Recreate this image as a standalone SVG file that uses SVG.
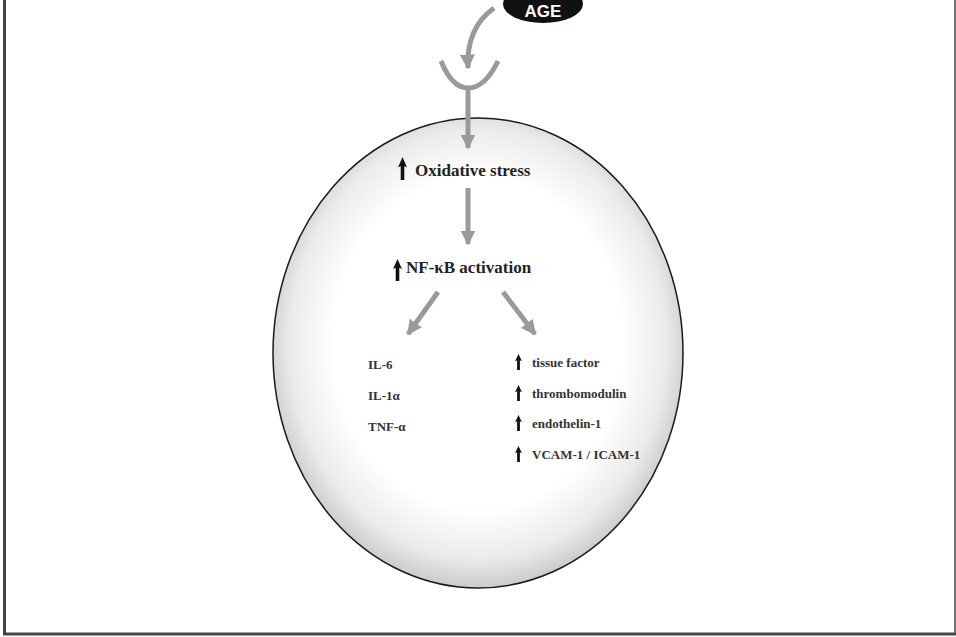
<svg xmlns="http://www.w3.org/2000/svg" width="956" height="637" viewBox="0 0 956 637">
<style>
.conn{fill:none;stroke:#9a9a9a;stroke-width:5;stroke-linecap:butt}
.main{font-family:"Liberation Serif","Times New Roman",serif;font-weight:bold;font-size:17px;fill:#222}
.item{font-family:"Liberation Serif","Times New Roman",serif;font-weight:bold;font-size:13px;fill:#333}
.age{font-family:"Liberation Sans",Arial,sans-serif;font-weight:bold;font-size:17px;fill:#fff}
.frame{stroke:#444;fill:none}
</style>
<defs>
<radialGradient id="cellGrad" cx="50%" cy="48%" r="52%">
<stop offset="0" stop-color="#ffffff"/>
<stop offset="0.68" stop-color="#ffffff"/>
<stop offset="0.88" stop-color="#ebebeb"/>
<stop offset="1" stop-color="#cbcbcb"/>
</radialGradient>
<marker id="ah" viewBox="0 0 10 10" refX="9" refY="5" markerWidth="3" markerHeight="3" orient="auto" markerUnits="strokeWidth">
<path d="M0 0 L10 5 L0 10 Z" fill="#9a9a9a"/>
</marker>
<symbol id="up" viewBox="0 0 10 24" preserveAspectRatio="none">
<path d="M5 0 L10 11 L7 9.5 L7 24 L3 24 L3 9.5 L0 11 Z" fill="#111"/>
</symbol>
</defs>
<rect width="956" height="637" fill="#fff"/>
<g id="frame">
<line class="frame" x1="4.5" y1="0" x2="4.5" y2="635" stroke-width="3"/>
<line class="frame" x1="3" y1="634" x2="956" y2="634" stroke-width="3"/>
<line class="frame" x1="955" y1="0" x2="955" y2="634" stroke-width="1.5"/>
</g>
<g id="cell">
<ellipse cx="478" cy="353" rx="205" ry="235" fill="url(#cellGrad)" stroke="#1a1a1a" stroke-width="1.5"/>
</g>
<g id="age">
<ellipse cx="543" cy="4" rx="40" ry="19" fill="#111"/>
<text class="age" x="543" y="17" text-anchor="middle">AGE</text>
</g>
<g id="receptor">
<path class="conn" d="M441 61 Q452 88 468 88 Q485 88 498 61"/>
</g>
<g id="connectors">
<path class="conn" d="M494 8 Q466 28 468 68" marker-end="url(#ah)"/>
<path class="conn" d="M468 88 L468 148" marker-end="url(#ah)"/>
<path class="conn" d="M468 188 L468 244" marker-end="url(#ah)"/>
<path class="conn" d="M438 292 L408 334" marker-end="url(#ah)"/>
<path class="conn" d="M503 292 L535 334" marker-end="url(#ah)"/>
</g>
<g id="oxidative">
<use href="#up" x="398" y="157" width="9" height="23"/>
<text class="main" x="415" y="176">Oxidative stress</text>
</g>
<g id="nfkb">
<use href="#up" x="393" y="259" width="9" height="22"/>
<text class="main" x="406" y="273">NF-κB activation</text>
</g>
<g id="cytokines">
<text class="item" x="368" y="369">IL-6</text>
<text class="item" x="368" y="400">IL-1α</text>
<text class="item" x="368" y="431">TNF-α</text>
</g>
<g id="endothelial">
<use href="#up" x="515" y="354" width="7" height="16"/>
<text class="item" x="532" y="367">tissue factor</text>
<use href="#up" x="515" y="385" width="7" height="16"/>
<text class="item" x="532" y="398">thrombomodulin</text>
<use href="#up" x="515" y="415" width="7" height="16"/>
<text class="item" x="532" y="428">endothelin-1</text>
<use href="#up" x="515" y="446" width="7" height="16"/>
<text class="item" x="532" y="459">VCAM-1 / ICAM-1</text>
</g>
</svg>
